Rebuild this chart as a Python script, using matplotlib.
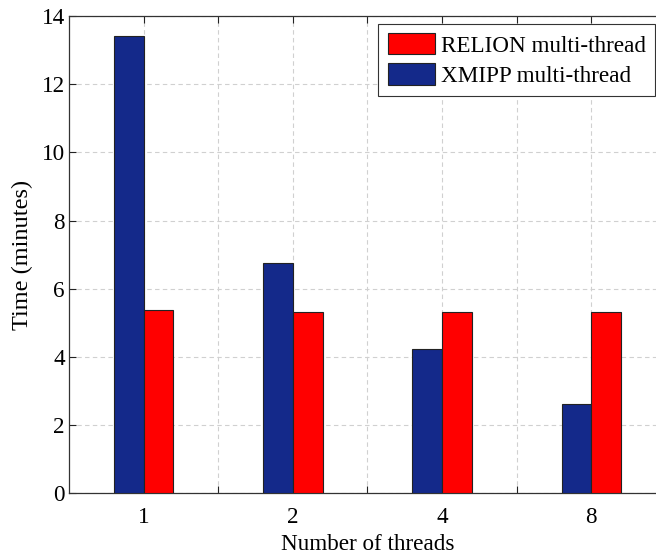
import matplotlib
matplotlib.use("Agg")
import matplotlib.pyplot as plt
import numpy as np

threads = ['1', '2', '4', '8']
xmipp = [13.40, 6.75, 4.22, 2.63]
relion = [5.37, 5.32, 5.32, 5.32]

plt.rcParams['font.family'] = ['Liberation Serif', 'DejaVu Serif']

fig = plt.figure(figsize=(6.56, 5.54), dpi=100)
ax = fig.add_axes([69/656, 60.7/554, (666-69)/656, (493.3-16)/554])

x = np.arange(1, len(threads) + 1)
w = 0.2
blue = '#14298A'
red = '#FF0000'
b1 = ax.bar(x - w/2, xmipp, width=w, color=blue, edgecolor='#222222', linewidth=0.8,
            label='XMIPP multi-thread', zorder=3)
b2 = ax.bar(x + w/2, relion, width=w, color=red, edgecolor='#222222', linewidth=0.8,
            label='RELION multi-thread', zorder=3)

ax.set_xlim(0.5, 4.5)
ax.set_ylim(0, 14)
ticks = []
labels = []
for i, t in zip(x, threads):
    ticks += [i, i + 0.5]
    labels += [t, '']
ax.set_xticks(ticks)
ax.set_xticklabels(labels)
ax.set_yticks(np.arange(0, 15, 2))
ax.tick_params(direction='in', top=True, right=True, length=5, width=0.8,
               labelsize=16.7, colors='#222222', labelcolor='black')
ax.tick_params(axis='x', pad=10)
ax.tick_params(axis='y', pad=3)
ax.grid(True, linestyle=(0, (4, 3)), color='#d0d0d0', linewidth=0.8, zorder=0)
ax.set_axisbelow(True)
for s in ax.spines.values():
    s.set_color('#333333')
    s.set_linewidth(0.9)

ax.set_xlabel('Number of threads', fontsize=16.7, labelpad=4)
ax.set_ylabel('Time (minutes)', fontsize=17.5, labelpad=6)

leg = ax.legend(handles=[b2, b1], labels=['RELION multi-thread', 'XMIPP multi-thread'],
                loc='upper right', bbox_to_anchor=(655/656, (554-24)/554),
                bbox_transform=fig.transFigure, borderaxespad=0, fontsize=16.7,
                fancybox=False, framealpha=1, edgecolor='#333333',
                handlelength=2.03, handleheight=1.03, handletextpad=0.26,
                labelspacing=0.28, borderpad=0.4)
leg.get_frame().set_linewidth(0.8)

fig.savefig('out.png', dpi=100)
